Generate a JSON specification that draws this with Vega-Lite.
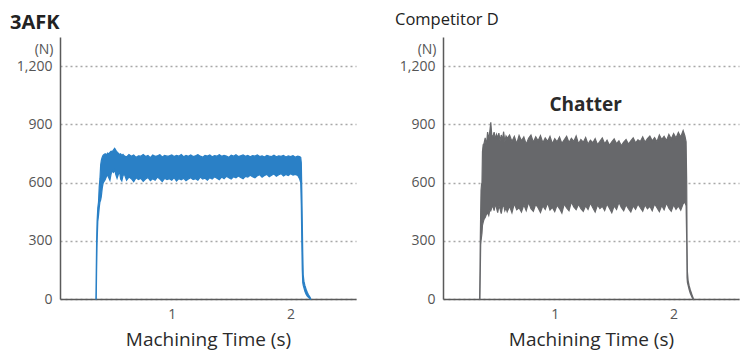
{
  "$schema": "https://vega.github.io/schema/vega-lite/v6.json",
  "background": "white",
  "padding": {"left": 10, "top": 11, "right": 5, "bottom": 5},
  "bounds": "flush",
  "spacing": 87,
  "config": {
    "font": "Open Sans",
    "view": {"stroke": null},
    "title": {"anchor": "start", "baseline": "top", "color": "#222222", "frame": "group"},
    "axis": {
      "domainColor": "#5a5a5a",
      "domainWidth": 1.5,
      "ticks": false,
      "labelColor": "#555555",
      "labelFontSize": 14,
      "labelFont": "Open Sans",
      "titleFont": "Open Sans"
    }
  },
  "datasets": {
    "afk": [
      {"t": 0.362, "lo": 0, "hi": 0},
      {"t": 0.365, "lo": 0, "hi": 150},
      {"t": 0.368, "lo": 150, "hi": 300},
      {"t": 0.372, "lo": 290, "hi": 400},
      {"t": 0.378, "lo": 400, "hi": 470},
      {"t": 0.384, "lo": 430, "hi": 500},
      {"t": 0.390, "lo": 470, "hi": 580},
      {"t": 0.396, "lo": 500, "hi": 620},
      {"t": 0.402, "lo": 510, "hi": 690},
      {"t": 0.408, "lo": 530, "hi": 715},
      {"t": 0.415, "lo": 570, "hi": 730},
      {"t": 0.422, "lo": 595, "hi": 740},
      {"t": 0.430, "lo": 605, "hi": 745},
      {"t": 0.440, "lo": 615, "hi": 748},
      {"t": 0.450, "lo": 630, "hi": 742},
      {"t": 0.460, "lo": 640, "hi": 752},
      {"t": 0.470, "lo": 625, "hi": 748},
      {"t": 0.480, "lo": 612, "hi": 756},
      {"t": 0.490, "lo": 645, "hi": 762},
      {"t": 0.500, "lo": 660, "hi": 760},
      {"t": 0.510, "lo": 652, "hi": 768},
      {"t": 0.520, "lo": 665, "hi": 776},
      {"t": 0.530, "lo": 640, "hi": 766},
      {"t": 0.540, "lo": 622, "hi": 758},
      {"t": 0.550, "lo": 640, "hi": 752},
      {"t": 0.560, "lo": 660, "hi": 744},
      {"t": 0.570, "lo": 618, "hi": 748},
      {"t": 0.580, "lo": 608, "hi": 740},
      {"t": 0.590, "lo": 635, "hi": 745},
      {"t": 0.600, "lo": 645, "hi": 738},
      {"t": 0.62, "lo": 612, "hi": 732},
      {"t": 0.64, "lo": 628, "hi": 744},
      {"t": 0.66, "lo": 620, "hi": 735},
      {"t": 0.68, "lo": 604, "hi": 742},
      {"t": 0.70, "lo": 625, "hi": 730},
      {"t": 0.72, "lo": 615, "hi": 738},
      {"t": 0.74, "lo": 622, "hi": 736},
      {"t": 0.76, "lo": 606, "hi": 745},
      {"t": 0.78, "lo": 618, "hi": 734},
      {"t": 0.80, "lo": 626, "hi": 740},
      {"t": 0.82, "lo": 610, "hi": 728},
      {"t": 0.84, "lo": 620, "hi": 742},
      {"t": 0.86, "lo": 612, "hi": 735},
      {"t": 0.88, "lo": 628, "hi": 738},
      {"t": 0.90, "lo": 618, "hi": 744},
      {"t": 0.92, "lo": 605, "hi": 732},
      {"t": 0.94, "lo": 622, "hi": 740},
      {"t": 0.96, "lo": 615, "hi": 736},
      {"t": 0.98, "lo": 620, "hi": 738},
      {"t": 1.00, "lo": 612, "hi": 742},
      {"t": 1.02, "lo": 625, "hi": 734},
      {"t": 1.04, "lo": 608, "hi": 740},
      {"t": 1.06, "lo": 620, "hi": 736},
      {"t": 1.08, "lo": 614, "hi": 745},
      {"t": 1.10, "lo": 622, "hi": 733},
      {"t": 1.12, "lo": 610, "hi": 740},
      {"t": 1.14, "lo": 618, "hi": 735},
      {"t": 1.16, "lo": 625, "hi": 742},
      {"t": 1.18, "lo": 615, "hi": 734},
      {"t": 1.20, "lo": 620, "hi": 738},
      {"t": 1.22, "lo": 612, "hi": 744},
      {"t": 1.24, "lo": 628, "hi": 736},
      {"t": 1.26, "lo": 618, "hi": 731},
      {"t": 1.28, "lo": 622, "hi": 740},
      {"t": 1.30, "lo": 612, "hi": 737},
      {"t": 1.32, "lo": 625, "hi": 742},
      {"t": 1.34, "lo": 618, "hi": 733},
      {"t": 1.36, "lo": 630, "hi": 739},
      {"t": 1.38, "lo": 622, "hi": 736},
      {"t": 1.40, "lo": 615, "hi": 744},
      {"t": 1.42, "lo": 628, "hi": 735},
      {"t": 1.44, "lo": 620, "hi": 740},
      {"t": 1.46, "lo": 632, "hi": 737},
      {"t": 1.48, "lo": 625, "hi": 730},
      {"t": 1.50, "lo": 618, "hi": 741},
      {"t": 1.52, "lo": 630, "hi": 736},
      {"t": 1.54, "lo": 624, "hi": 743},
      {"t": 1.56, "lo": 634, "hi": 734},
      {"t": 1.58, "lo": 626, "hi": 738},
      {"t": 1.60, "lo": 620, "hi": 742},
      {"t": 1.62, "lo": 632, "hi": 735},
      {"t": 1.64, "lo": 628, "hi": 740},
      {"t": 1.66, "lo": 638, "hi": 733},
      {"t": 1.68, "lo": 630, "hi": 739},
      {"t": 1.70, "lo": 624, "hi": 736},
      {"t": 1.72, "lo": 635, "hi": 742},
      {"t": 1.74, "lo": 640, "hi": 734},
      {"t": 1.76, "lo": 628, "hi": 738},
      {"t": 1.78, "lo": 636, "hi": 732},
      {"t": 1.80, "lo": 642, "hi": 740},
      {"t": 1.82, "lo": 630, "hi": 736},
      {"t": 1.84, "lo": 638, "hi": 734},
      {"t": 1.86, "lo": 644, "hi": 741},
      {"t": 1.88, "lo": 632, "hi": 733},
      {"t": 1.90, "lo": 640, "hi": 738},
      {"t": 1.92, "lo": 646, "hi": 735},
      {"t": 1.94, "lo": 634, "hi": 740},
      {"t": 1.96, "lo": 642, "hi": 732},
      {"t": 1.98, "lo": 636, "hi": 737},
      {"t": 2.00, "lo": 645, "hi": 734},
      {"t": 2.02, "lo": 638, "hi": 739},
      {"t": 2.04, "lo": 642, "hi": 731},
      {"t": 2.06, "lo": 636, "hi": 736},
      {"t": 2.075, "lo": 620, "hi": 734},
      {"t": 2.085, "lo": 600, "hi": 730},
      {"t": 2.090, "lo": 480, "hi": 700},
      {"t": 2.094, "lo": 300, "hi": 560},
      {"t": 2.098, "lo": 150, "hi": 400},
      {"t": 2.102, "lo": 85, "hi": 240},
      {"t": 2.106, "lo": 70, "hi": 125},
      {"t": 2.112, "lo": 58, "hi": 92},
      {"t": 2.120, "lo": 40, "hi": 70},
      {"t": 2.130, "lo": 25, "hi": 50},
      {"t": 2.140, "lo": 15, "hi": 35},
      {"t": 2.150, "lo": 8, "hi": 22},
      {"t": 2.160, "lo": 2, "hi": 12},
      {"t": 2.168, "lo": 0, "hi": 3}
    ],
    "compD": [
      {"t": 0.368, "lo": 0, "hi": 0},
      {"t": 0.371, "lo": 0, "hi": 150},
      {"t": 0.374, "lo": 150, "hi": 320},
      {"t": 0.377, "lo": 280, "hi": 450},
      {"t": 0.380, "lo": 300, "hi": 560},
      {"t": 0.384, "lo": 320, "hi": 590},
      {"t": 0.388, "lo": 340, "hi": 600},
      {"t": 0.392, "lo": 380, "hi": 760},
      {"t": 0.398, "lo": 395, "hi": 795},
      {"t": 0.405, "lo": 410, "hi": 800},
      {"t": 0.415, "lo": 420, "hi": 830},
      {"t": 0.425, "lo": 435, "hi": 790},
      {"t": 0.435, "lo": 445, "hi": 860},
      {"t": 0.445, "lo": 430, "hi": 820},
      {"t": 0.455, "lo": 460, "hi": 870},
      {"t": 0.462, "lo": 455, "hi": 910},
      {"t": 0.470, "lo": 470, "hi": 845},
      {"t": 0.480, "lo": 480, "hi": 835},
      {"t": 0.490, "lo": 455, "hi": 860},
      {"t": 0.500, "lo": 490, "hi": 825},
      {"t": 0.51, "lo": 470, "hi": 848},
      {"t": 0.52, "lo": 445, "hi": 830},
      {"t": 0.53, "lo": 480, "hi": 855},
      {"t": 0.54, "lo": 465, "hi": 815},
      {"t": 0.55, "lo": 440, "hi": 845},
      {"t": 0.56, "lo": 475, "hi": 820},
      {"t": 0.57, "lo": 485, "hi": 862},
      {"t": 0.58, "lo": 455, "hi": 810},
      {"t": 0.59, "lo": 470, "hi": 840},
      {"t": 0.60, "lo": 450, "hi": 828},
      {"t": 0.62, "lo": 478, "hi": 845},
      {"t": 0.64, "lo": 445, "hi": 812},
      {"t": 0.66, "lo": 492, "hi": 838},
      {"t": 0.68, "lo": 460, "hi": 800},
      {"t": 0.70, "lo": 470, "hi": 842},
      {"t": 0.72, "lo": 448, "hi": 815},
      {"t": 0.74, "lo": 485, "hi": 835},
      {"t": 0.76, "lo": 455, "hi": 798},
      {"t": 0.78, "lo": 498, "hi": 828},
      {"t": 0.80, "lo": 466, "hi": 845},
      {"t": 0.82, "lo": 452, "hi": 808},
      {"t": 0.84, "lo": 488, "hi": 836},
      {"t": 0.86, "lo": 470, "hi": 815},
      {"t": 0.88, "lo": 446, "hi": 842},
      {"t": 0.90, "lo": 480, "hi": 805},
      {"t": 0.92, "lo": 462, "hi": 830},
      {"t": 0.94, "lo": 495, "hi": 812},
      {"t": 0.96, "lo": 458, "hi": 838},
      {"t": 0.98, "lo": 472, "hi": 800},
      {"t": 1.00, "lo": 450, "hi": 826},
      {"t": 1.02, "lo": 484, "hi": 810},
      {"t": 1.04, "lo": 466, "hi": 835},
      {"t": 1.06, "lo": 443, "hi": 802},
      {"t": 1.08, "lo": 490, "hi": 820},
      {"t": 1.10, "lo": 470, "hi": 838},
      {"t": 1.12, "lo": 455, "hi": 806},
      {"t": 1.14, "lo": 500, "hi": 828},
      {"t": 1.16, "lo": 475, "hi": 812},
      {"t": 1.18, "lo": 460, "hi": 840},
      {"t": 1.20, "lo": 488, "hi": 800},
      {"t": 1.22, "lo": 466, "hi": 822},
      {"t": 1.24, "lo": 452, "hi": 808},
      {"t": 1.26, "lo": 480, "hi": 832},
      {"t": 1.28, "lo": 462, "hi": 798},
      {"t": 1.30, "lo": 495, "hi": 818},
      {"t": 1.32, "lo": 470, "hi": 805},
      {"t": 1.34, "lo": 448, "hi": 826},
      {"t": 1.36, "lo": 485, "hi": 795},
      {"t": 1.38, "lo": 466, "hi": 812},
      {"t": 1.40, "lo": 478, "hi": 830},
      {"t": 1.42, "lo": 456, "hi": 800},
      {"t": 1.44, "lo": 490, "hi": 818},
      {"t": 1.46, "lo": 468, "hi": 792},
      {"t": 1.48, "lo": 445, "hi": 810},
      {"t": 1.50, "lo": 480, "hi": 825},
      {"t": 1.52, "lo": 462, "hi": 800},
      {"t": 1.54, "lo": 498, "hi": 815},
      {"t": 1.56, "lo": 472, "hi": 790},
      {"t": 1.58, "lo": 455, "hi": 808},
      {"t": 1.60, "lo": 486, "hi": 822},
      {"t": 1.62, "lo": 466, "hi": 798},
      {"t": 1.64, "lo": 448, "hi": 815},
      {"t": 1.66, "lo": 480, "hi": 830},
      {"t": 1.68, "lo": 462, "hi": 805},
      {"t": 1.70, "lo": 490, "hi": 820},
      {"t": 1.72, "lo": 470, "hi": 812},
      {"t": 1.74, "lo": 452, "hi": 835},
      {"t": 1.76, "lo": 485, "hi": 808},
      {"t": 1.78, "lo": 465, "hi": 826},
      {"t": 1.80, "lo": 478, "hi": 840},
      {"t": 1.82, "lo": 455, "hi": 815},
      {"t": 1.84, "lo": 490, "hi": 832},
      {"t": 1.86, "lo": 470, "hi": 810},
      {"t": 1.88, "lo": 450, "hi": 845},
      {"t": 1.90, "lo": 482, "hi": 822},
      {"t": 1.92, "lo": 460, "hi": 838},
      {"t": 1.94, "lo": 495, "hi": 816},
      {"t": 1.96, "lo": 468, "hi": 848},
      {"t": 1.98, "lo": 452, "hi": 825},
      {"t": 2.00, "lo": 486, "hi": 852},
      {"t": 2.02, "lo": 462, "hi": 830},
      {"t": 2.04, "lo": 480, "hi": 858},
      {"t": 2.06, "lo": 458, "hi": 835},
      {"t": 2.08, "lo": 490, "hi": 868},
      {"t": 2.095, "lo": 500, "hi": 840},
      {"t": 2.105, "lo": 480, "hi": 810},
      {"t": 2.110, "lo": 300, "hi": 600},
      {"t": 2.113, "lo": 110, "hi": 300},
      {"t": 2.116, "lo": 85, "hi": 140},
      {"t": 2.122, "lo": 70, "hi": 95},
      {"t": 2.130, "lo": 50, "hi": 70},
      {"t": 2.140, "lo": 30, "hi": 48},
      {"t": 2.150, "lo": 15, "hi": 30},
      {"t": 2.158, "lo": 5, "hi": 15},
      {"t": 2.166, "lo": 0, "hi": 3}
    ],
    "notes": [
      {"t": 1.26, "lo": 1000, "label": "Chatter"}
    ]
  },
  "hconcat": [
    {
      "width": 296,
      "height": 262,
      "title": {"text": "3AFK", "fontSize": 20, "fontWeight": "bold", "dx": -50},
      "data": {"name": "afk"},
      "mark": {"type": "area", "color": "#2a80c6", "stroke": "#2a80c6", "strokeWidth": 1.2, "opacity": 1},
      "encoding": {
        "x": {
          "field": "t", "type": "quantitative",
          "scale": {"domain": [0.06, 2.55], "nice": false, "zero": false},
          "axis": {"values": [1, 2], "format": "d", "grid": false, "labelPadding": 8, "title": "Machining Time (s)", "titleFontSize": 19, "titleFontWeight": "normal", "titleColor": "#2a2a2a", "titlePadding": 9}
        },
        "y": {
          "field": "lo", "type": "quantitative",
          "scale": {"domain": [0, 1350], "nice": false},
          "axis": {"values": [0, 300, 600, 900, 1200], "format": ",d", "grid": true, "gridDash": [2, 3], "gridColor": "#a8a8a8", "gridWidth": 1.3, "labelPadding": 8, "title": "(N)", "titleAngle": 0, "titleAlign": "right", "titleBaseline": "alphabetic", "titleX": -7, "titleY": 16, "titleFontSize": 14, "titleFontWeight": "normal", "titleColor": "#555555"}
        },
        "y2": {"field": "hi"}
      }
    },
    {
      "width": 296,
      "height": 262,
      "title": {"text": "Competitor D", "fontSize": 16.5, "fontWeight": "normal", "dx": -48, "dy": -5},
      "encoding": {
        "x": {
          "field": "t", "type": "quantitative",
          "scale": {"domain": [0.06, 2.55], "nice": false, "zero": false},
          "axis": {"values": [1, 2], "format": "d", "grid": false, "labelPadding": 8, "title": "Machining Time (s)", "titleFontSize": 19, "titleFontWeight": "normal", "titleColor": "#2a2a2a", "titlePadding": 9}
        },
        "y": {
          "field": "lo", "type": "quantitative",
          "scale": {"domain": [0, 1350], "nice": false},
          "axis": {"values": [0, 300, 600, 900, 1200], "format": ",d", "grid": true, "gridDash": [2, 3], "gridColor": "#a8a8a8", "gridWidth": 1.3, "labelPadding": 8, "title": "(N)", "titleAngle": 0, "titleAlign": "right", "titleBaseline": "alphabetic", "titleX": -7, "titleY": 16, "titleFontSize": 14, "titleFontWeight": "normal", "titleColor": "#555555"}
        }
      },
      "layer": [
        {
          "data": {"name": "compD"},
          "mark": {"type": "area", "color": "#67686b", "stroke": "#67686b", "strokeWidth": 1.2, "opacity": 1},
          "encoding": {
            "y2": {"field": "hi"}
          }
        },
        {
          "data": {"name": "notes"},
          "mark": {"type": "text", "fontSize": 19, "fontWeight": "bold", "color": "#2a2a2a", "baseline": "middle", "align": "center"},
          "encoding": {
            "text": {"field": "label"}
          }
        }
      ]
    }
  ]
}
